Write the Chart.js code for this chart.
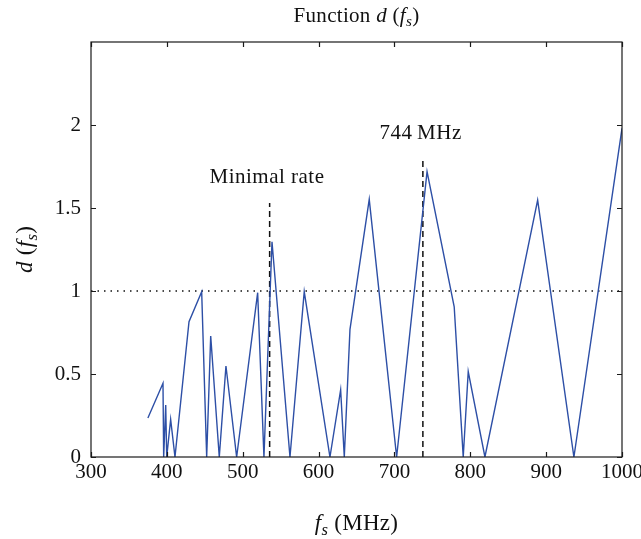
<!DOCTYPE html>
<html>
<head>
<meta charset="utf-8">
<script src="https://cdn.jsdelivr.net/npm/chart.js@4"></script>
<style>
  html, body { margin: 0; padding: 0; background: #fff; }
  #wrap { width: 641px; height: 539px; }
</style>
</head>
<body>
<div id="wrap"><canvas id="dfs-chart" width="641" height="539"></canvas></div>
<script>
// sampling rate (MHz) and d(fs)
const fsValues = [375, 394.9, 395.8, 398.5, 399.8, 405, 410.7, 429.2, 445.9, 452.5,
  457.8, 469.1, 477.9, 492, 519.7, 528, 538.6, 562.3, 581.1, 615,
  629.1, 633.9, 641.4, 666.8, 702.9, 743, 778.8, 790.7, 797.3, 819.3,
  888.8, 936.6, 1000]
const dValues = [0.235, 0.444, 0, 0.313, 0, 0.227, 0, 0.815, 0.996, 0,
  0.729, 0, 0.548, 0, 0.99, 0, 1.297, 0, 0.996, 0,
  0.404, 0, 0.769, 1.552, 0, 1.719, 0.905, 0, 0.514, 0,
  1.548, 0, 1.98]

const thresholdX = [300, 1000]
const thresholdY = [1, 1]
const minimalRateX = [535.5, 535.5]
const minimalRateY = [0, 1.53]
const marker744X = [737.5, 737.5]
const marker744Y = [0, 1.8]

const xTicks = [300, 400, 500, 600, 700, 800, 900, 1000]
const yTicks = [0, 0.5, 1, 1.5, 2]

const annotations = [
  { text: 'Minimal rate', x: 532, y: 1.69 },
  { text: '744\u2009MHz', x: 734.5, y: 1.96 }
]

const serif = '"Liberation Serif", "DejaVu Serif", serif'
const lineBlue = '#2d4fa6'

function toPoints(xs, ys) {
  return xs.map((x, i) => ({ x: x, y: ys[i] }))
}

// draws a run of [text, italic, sub] pieces starting at x
function drawPieces(ctx, pieces, x, y, size) {
  let cx = x
  pieces.forEach(function(p) {
    const sz = p[2] ? size * 0.72 : size
    ctx.font = (p[1] ? 'italic ' : '') + sz + 'px ' + serif
    ctx.fillText(p[0], cx, p[2] ? y + size * 0.2 : y)
    cx += ctx.measureText(p[0]).width
  })
  return cx - x
}

function piecesWidth(ctx, pieces, size) {
  let w = 0
  pieces.forEach(function(p) {
    const sz = p[2] ? size * 0.72 : size
    ctx.font = (p[1] ? 'italic ' : '') + sz + 'px ' + serif
    w += ctx.measureText(p[0]).width
  })
  return w
}

const framePlugin = {
  id: 'matlabFrame',
  afterDraw(chart) {
    const ctx = chart.ctx
    const area = chart.chartArea
    const xs = chart.scales.x
    const ys = chart.scales.y
    ctx.save()

    // box
    ctx.strokeStyle = '#1a1a1a'
    ctx.lineWidth = 1.2
    ctx.strokeRect(area.left, area.top, area.right - area.left, area.bottom - area.top)

    // inward ticks
    ctx.beginPath()
    xTicks.forEach(function(v) {
      const px = Math.round(xs.getPixelForValue(v)) + 0.5
      ctx.moveTo(px, area.bottom); ctx.lineTo(px, area.bottom - 5)
      ctx.moveTo(px, area.top); ctx.lineTo(px, area.top + 5)
    })
    yTicks.forEach(function(v) {
      const py = Math.round(ys.getPixelForValue(v)) + 0.5
      ctx.moveTo(area.left, py); ctx.lineTo(area.left + 5, py)
      ctx.moveTo(area.right, py); ctx.lineTo(area.right - 5, py)
    })
    ctx.stroke()

    ctx.fillStyle = '#111'
    ctx.textBaseline = 'alphabetic'
    ctx.textAlign = 'left'

    // title
    ctx.letterSpacing = '0.3px'
    const title = [['Function ', false], ['d', true], [' (', false], ['f', true], ['s', true, true], [')', false]]
    const tw = piecesWidth(ctx, title, 21)
    drawPieces(ctx, title, (area.left + area.right) / 2 - tw / 2, 22, 21)

    // x axis title
    const xt = [['f', true], ['s', true, true], [' (MHz)', false]]
    const xw = piecesWidth(ctx, xt, 23)
    drawPieces(ctx, xt, (area.left + area.right) / 2 - xw / 2, 530, 23)

    // y axis title
    const yt = [['d', true], [' (', false], ['f', true], ['s', true, true], [')', false]]
    const yw = piecesWidth(ctx, yt, 23)
    ctx.save()
    ctx.translate(32, (area.top + area.bottom) / 2)
    ctx.rotate(-Math.PI / 2)
    drawPieces(ctx, yt, -yw / 2, 0, 23)
    ctx.restore()

    // annotations
    ctx.letterSpacing = '0.5px'
    ctx.font = '21px ' + serif
    ctx.textAlign = 'center'
    annotations.forEach(function(a) {
      ctx.fillText(a.text, xs.getPixelForValue(a.x), ys.getPixelForValue(a.y) + 7)
    })

    ctx.restore()
  }
}

const ctx = document.getElementById('dfs-chart').getContext('2d')
new Chart(ctx, {
  type: 'line',
  data: {
    datasets: [
      {
        label: 'd(fs)',
        data: toPoints(fsValues, dValues),
        borderColor: lineBlue,
        borderWidth: 1.4,
        pointRadius: 0,
        tension: 0,
        fill: false
      },
      {
        label: 'threshold',
        data: toPoints(thresholdX, thresholdY),
        borderColor: '#111',
        borderWidth: 1.3,
        borderDash: [1.5, 5],
        pointRadius: 0,
        fill: false
      },
      {
        label: 'minimal rate',
        data: toPoints(minimalRateX, minimalRateY),
        borderColor: '#111',
        borderWidth: 1.5,
        borderDash: [6, 4],
        pointRadius: 0,
        fill: false
      },
      {
        label: '744 MHz',
        data: toPoints(marker744X, marker744Y),
        borderColor: '#111',
        borderWidth: 1.5,
        borderDash: [6, 4],
        pointRadius: 0,
        fill: false
      }
    ]
  },
  options: {
    responsive: false,
    animation: false,
    layout: { padding: { left: 0, top: 42, right: 19, bottom: 0 } },
    scales: {
      x: {
        type: 'linear',
        min: 300,
        max: 1000,
        afterFit(scale) {
          scale.height = 82
          scale.paddingLeft = 0
          scale.paddingRight = 0
        },
        afterBuildTicks(scale) { scale.ticks = xTicks.map(v => ({ value: v })) },
        ticks: {
          autoSkip: false,
          maxRotation: 0,
          padding: 3,
          color: '#111',
          font: { family: serif, size: 21 },
          callback: (v) => String(v)
        },
        grid: { display: false, drawTicks: false },
        border: { display: false }
      },
      y: {
        type: 'linear',
        min: 0,
        max: 2.5,
        afterFit(scale) {
          scale.width = 91
          scale.paddingTop = 0
          scale.paddingBottom = 0
        },
        afterBuildTicks(scale) { scale.ticks = yTicks.map(v => ({ value: v })) },
        ticks: {
          padding: 10,
          color: '#111',
          font: { family: serif, size: 21 },
          callback: (v) => String(v)
        },
        grid: { display: false, drawTicks: false },
        border: { display: false }
      }
    },
    plugins: {
      legend: { display: false },
      tooltip: { enabled: false }
    }
  },
  plugins: [framePlugin]
})
</script>
</body>
</html>
